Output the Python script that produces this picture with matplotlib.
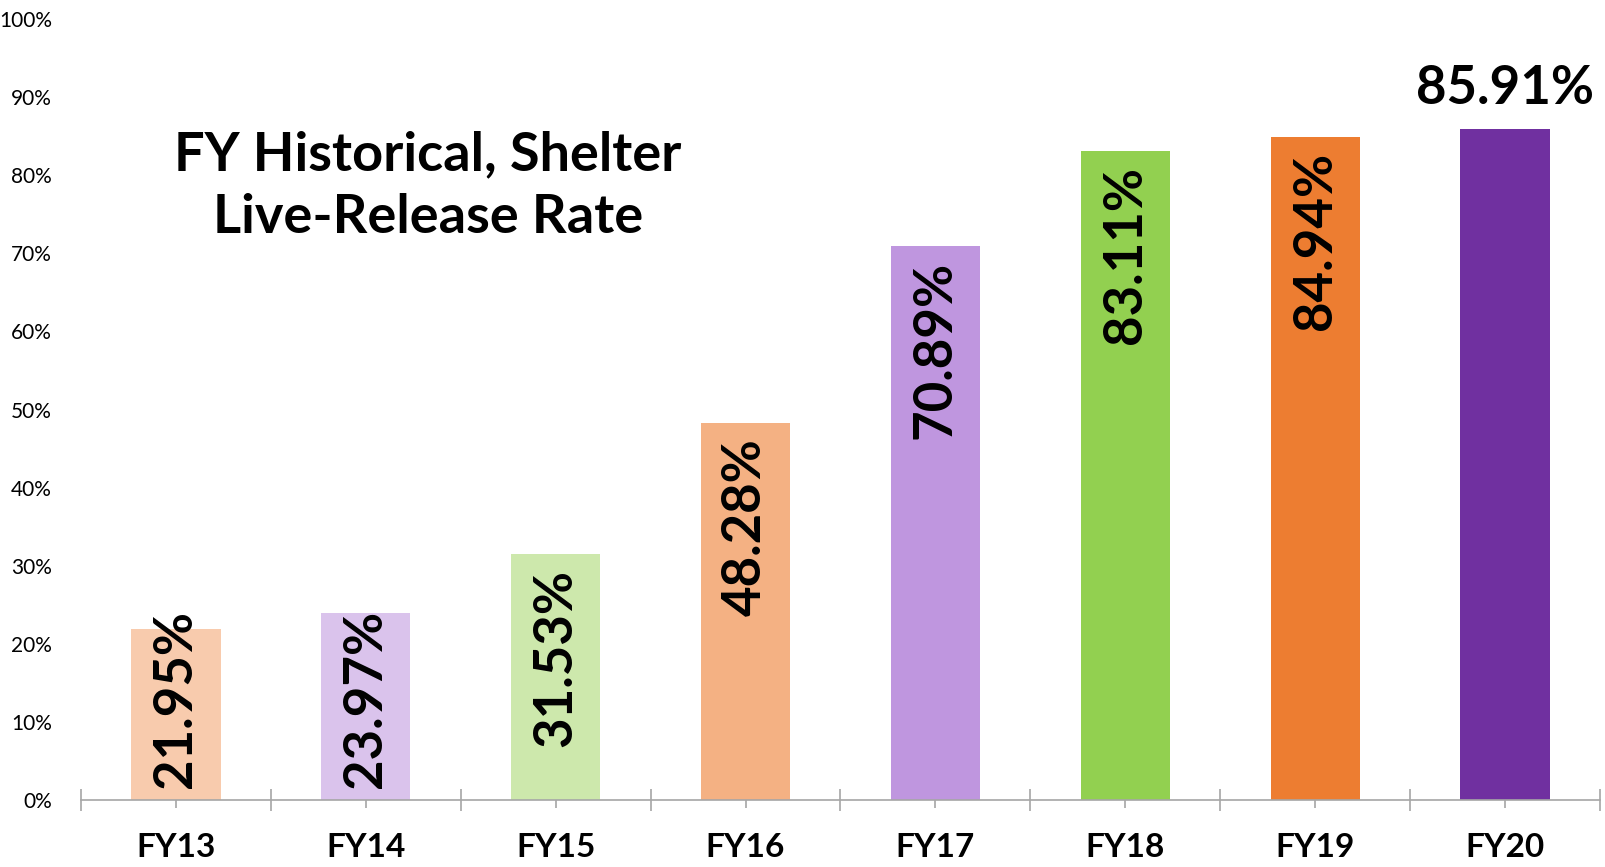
import matplotlib
matplotlib.use("Agg")
import matplotlib.pyplot as plt
from matplotlib.ticker import FixedLocator

categories = ["FY13", "FY14", "FY15", "FY16", "FY17", "FY18", "FY19", "FY20"]
values = [21.95, 23.97, 31.53, 48.28, 70.89, 83.11, 84.94, 85.91]
colors = ["#F8CBAD", "#DAC3EC", "#CDE8AC", "#F4B183", "#BF96DF", "#92D050", "#ED7D31", "#7030A0"]
yticks = [0, 10, 20, 30, 40, 50, 60, 70, 80, 90, 100]
title = "FY Historical, Shelter\nLive-Release Rate"

FONT = "Lato"
W, H = 1606, 867
fig = plt.figure(figsize=(W / 100, H / 100), dpi=100)
ax = fig.add_axes([81 / W, (H - 800) / H, (1600 - 81) / W, (800 - 19) / H])

x = list(range(len(categories)))
bars = ax.bar(x, values, width=0.47, color=colors, zorder=2)

ax.set_xlim(-0.5, len(categories) - 0.5)
ax.set_ylim(0, 100)
ax.set_yticks(yticks)
ax.set_yticklabels([f"{v}%" for v in yticks], fontsize=15, family=FONT)
ax.tick_params(axis="y", length=0, pad=21)

ax.set_xticks(x)
ax.set_xticklabels(categories, fontsize=24, fontweight="bold", family=FONT)
ax.xaxis.set_minor_locator(FixedLocator([i - 0.5 for i in range(len(categories) + 1)]))
gray = "#A6A6A6"
ax.tick_params(axis="x", which="major", direction="inout", length=12, width=1.2,
               color=gray, pad=18)
ax.tick_params(axis="x", which="minor", direction="inout", length=16, width=1.2,
               color=gray)

for s in ["top", "right", "left"]:
    ax.spines[s].set_visible(False)
ax.spines["bottom"].set_color(gray)
ax.spines["bottom"].set_linewidth(1.2)

fig.canvas.draw()
renderer = fig.canvas.get_renderer()
y_floor = ax.transData.transform((0, 1.5))[1]
for i, v in enumerate(values):
    if i == len(values) - 1:
        ax.text(i, v + 2.0, f"{v:.2f}%", ha="center", va="bottom", fontsize=38,
                fontweight="bold", family=FONT, zorder=3)
        continue
    t = ax.text(i, v - 1.9, f"{v:.2f}%", ha="center", va="top", rotation=90,
                fontsize=38, fontweight="bold", family=FONT, zorder=3)
    bb = t.get_window_extent(renderer)
    if bb.y0 < y_floor:
        t.set_position((i, 1.5))
        t.set_va("bottom")

fig.text(428 / W, 1 - 186 / H, title, ha="center", va="center", fontsize=39,
         fontweight="bold", family=FONT, linespacing=1.36)

fig.savefig("out.png", dpi=100)
